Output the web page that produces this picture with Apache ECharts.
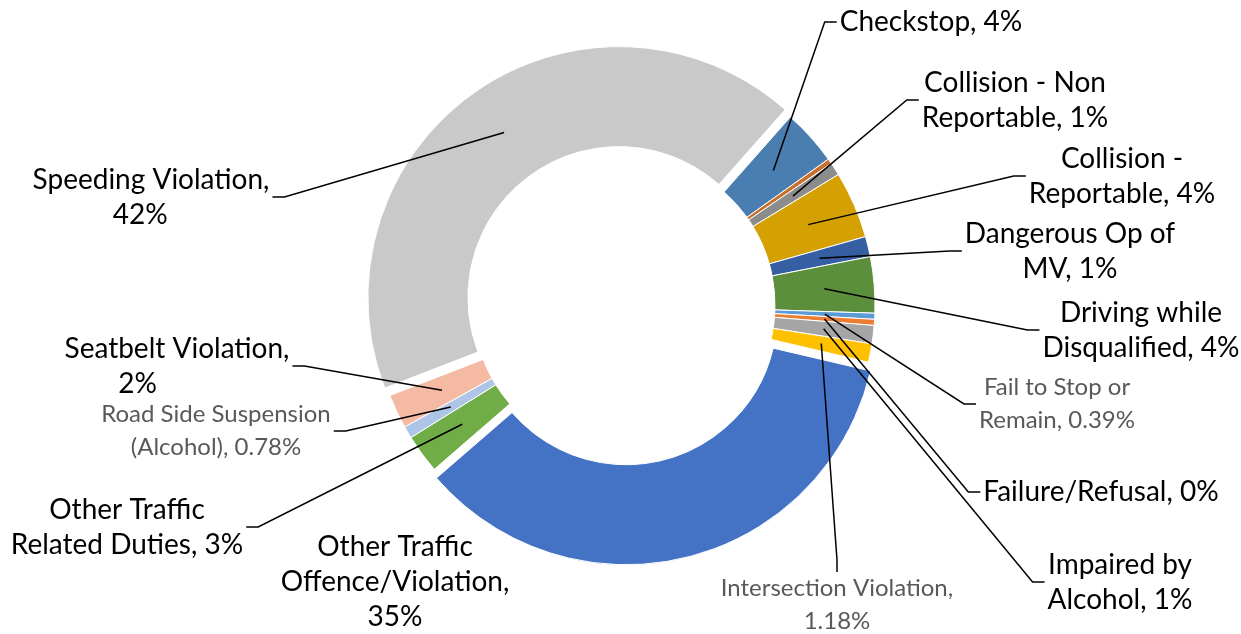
<!DOCTYPE html>
<html><head><meta charset="utf-8">
<script src="https://cdn.jsdelivr.net/npm/echarts@6/dist/echarts.min.js"></script>
<style>html,body{margin:0;padding:0;background:#fff}#c{width:1241px;height:634px}</style>
</head><body><div id="c"></div>
<script>
// ---- data ----
const categories = [
  'Checkstop', 'Other', 'Collision - Non Reportable', 'Collision - Reportable',
  'Dangerous Op of MV', 'Driving while Disqualified', 'Fail to Stop or Remain',
  'Failure/Refusal', 'Impaired by Alcohol', 'Intersection Violation',
  'Other Traffic Offence/Violation', 'Other Traffic Related Duties',
  'Road Side Suspension (Alcohol)', 'Seatbelt Violation', 'Speeding Violation'
];
const values = [3.6, 0.33, 0.83, 4.3, 1.3, 3.6, 0.39, 0.39, 1.17, 1.18, 34.9, 2.5, 0.78, 2.2, 42.3];
const labelTexts = [
  'Checkstop, 4%', '', 'Collision - Non\nReportable, 1%', 'Collision -\nReportable, 4%',
  'Dangerous Op of\nMV, 1%', 'Driving while\nDisqualified, 4%', 'Fail to Stop or\nRemain, 0.39%',
  'Failure/Refusal, 0%', 'Impaired by\nAlcohol, 1%', 'Intersection Violation,\n1.18%',
  'Other Traffic\nOffence/Violation,\n35%', 'Other Traffic\nRelated Duties, 3%',
  'Road Side Suspension\n(Alcohol), 0.78%', 'Seatbelt Violation,\n2%' + ' '.repeat(11),
  'Speeding Violation,\n42%   '
];
const explodedCats = ['Other Traffic Offence/Violation', 'Speeding Violation'];
const smallGrayLabels = ['Fail to Stop or Remain', 'Road Side Suspension (Alcohol)', 'Intersection Violation'];

// ---- styles / layout ----
const colors = ['#4A7EB1', '#C8702B', '#8C8C8C', '#D5A102', '#365FA3', '#5B8F3B', '#5B9BD5',
  '#ED7D31', '#A5A5A5', '#FFC000', '#4472C4', '#70AD47', '#ADC5E7', '#F4BAA3', '#C9C9C9'];
// label centre positions [x, y]
const labelPos = [
  [931, 22], null, [1015, 100], [1122, 176], [1070, 251], [1141, 330], [1057, 404],
  [1101, 492], [1120, 582], [837, 605], [395, 582], [127, 527], [216, 431], [177, 366], [151, 197]
];
const CX = 624, CY = 305, OFFSET = 9, LEN2 = 12;

const mainData = categories.map((c, i) => ({
  name: c, value: values[i], selected: explodedCats.includes(c),
  itemStyle: { color: colors[i] }
}));
const labelData = categories.map((c, i) => {
  const gray = smallGrayLabels.includes(c);
  return {
    name: c, value: values[i],
    itemStyle: { color: 'rgba(0,0,0,0)', borderWidth: 0 },
    label: {
      show: labelTexts[i] !== '',
      formatter: labelTexts[i],
      color: gray ? '#595959' : '#000000',
      fontSize: gray ? 24 : 28,
      lineHeight: gray ? 33 : 35
    },
    labelLine: { show: labelTexts[i] !== '' && c !== 'Other Traffic Offence/Violation' }
  };
});

function layoutLabel(params) {
  const i = params.dataIndex;
  const p = labelPos[i];
  if (!p) return {};
  const res = { x: p[0], y: p[1], align: 'center', verticalAlign: 'middle' };
  const pts = params.labelLinePoints;
  if (pts && pts.length) {
    const w = params.labelRect.width, h = params.labelRect.height;
    let ax = pts[0][0], ay = pts[0][1];
    if (explodedCats.includes(categories[i])) {
      const dx = ax - CX, dy = ay - CY, d = Math.hypot(dx, dy);
      ax += dx / d * OFFSET; ay += dy / d * OFFSET;
    }
    const cands = [
      [p[0] - w / 2 - 3, p[1], -1, 0], [p[0] + w / 2 + 3, p[1], 1, 0],
      [p[0], p[1] - h / 2, 0, -1], [p[0], p[1] + h / 2, 0, 1]
    ];
    let best = null, bd = Infinity;
    for (const c of cands) {
      const x1 = c[0] + c[2] * LEN2, y1 = c[1] + c[3] * LEN2;
      const d = Math.hypot(x1 - ax, y1 - ay);
      if (d < bd) { bd = d; best = [[ax, ay], [x1, y1], [c[0], c[1]]]; }
    }
    res.labelLinePoints = best;
  }
  return res;
}

const chart = echarts.init(document.getElementById('c'), null, { renderer: 'canvas' });
chart.setOption({
  animation: false,
  series: [
    {
      type: 'pie', z: 2, silent: true,
      center: [CX, CY], radius: [151, 251],
      startAngle: 48.5, clockwise: true,
      selectedMode: 'multiple', selectedOffset: OFFSET,
      avoidLabelOverlap: false,
      label: { show: false }, labelLine: { show: false },
      itemStyle: { borderColor: '#ffffff', borderWidth: 1 },
      emphasis: { disabled: true },
      data: mainData
    },
    {
      type: 'pie', z: 3, silent: true,
      center: [CX, CY], radius: [0, 201],
      startAngle: 48.5, clockwise: true,
      avoidLabelOverlap: false,
      label: { show: true, position: 'outside', fontFamily: 'Lato', align: 'center' },
      labelLine: { show: true, length: 5, length2: LEN2, smooth: false,
        lineStyle: { color: '#000000', width: 1.5 } },
      labelLayout: layoutLabel,
      emphasis: { disabled: true },
      data: labelData
    }
  ]
});
</script>
</body></html>
